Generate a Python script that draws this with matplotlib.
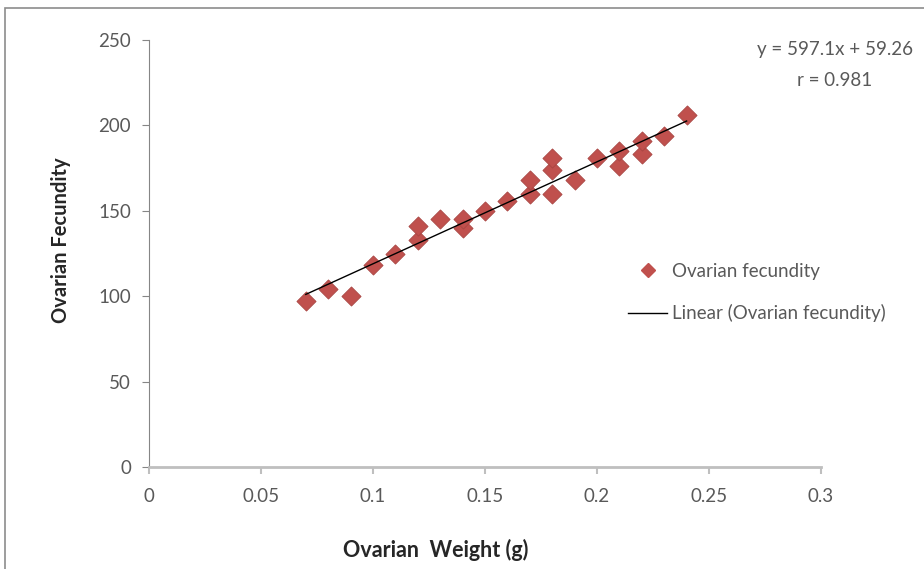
import numpy as np
import matplotlib
matplotlib.use("Agg")
import matplotlib.pyplot as plt
from matplotlib.lines import Line2D
from matplotlib.patches import Rectangle

plt.rcParams["font.family"] = ["Lato", "DejaVu Sans"]

# ovarian weight (g) and fecundity
weight = [0.07, 0.08, 0.09, 0.10, 0.11, 0.12, 0.12, 0.13, 0.14, 0.14,
          0.15, 0.16, 0.17, 0.17, 0.18, 0.18, 0.18, 0.19, 0.20, 0.21,
          0.21, 0.22, 0.22, 0.23, 0.24]
fecundity = [97, 104, 100, 118, 125, 133, 141, 145, 140, 145,
             150, 156, 160, 168, 160, 174, 181, 168, 181, 176,
             185, 183, 191, 194, 206]

slope = 597.1
intercept = 59.26
r_value = 0.981

x_ticks = [0, 0.05, 0.1, 0.15, 0.2, 0.25, 0.3]
x_tick_labels = ["0", "0.05", "0.1", "0.15", "0.2", "0.25", "0.3"]
y_ticks = [0, 50, 100, 150, 200, 250]

W, H = 924, 569
fig = plt.figure(figsize=(W / 100, H / 100), dpi=100)
ax = fig.add_axes([149 / W, 1 - 467 / H, 672 / W, 427 / H])

point_color = "#C0504D"
ax.scatter(weight, fecundity, marker="D", s=95, color=point_color,
           edgecolor="#A94542", linewidth=0.6, zorder=3)

x_fit = np.array([min(weight), max(weight)])
ax.plot(x_fit, slope * x_fit + intercept, color="black", linewidth=1.0, zorder=4)

ax.set_xlim(0, 0.3)
ax.set_ylim(0, 250)
ax.set_xticks(x_ticks)
ax.set_xticklabels(x_tick_labels)
ax.set_yticks(y_ticks)

text_color = "#595959"
fs = 13.5
ax.tick_params(axis="both", direction="out", labelsize=fs, colors="#868686",
               labelcolor=text_color, length=5)
ax.tick_params(axis="x", pad=10)
ax.tick_params(axis="y", pad=8)
for s in ["top", "right"]:
    ax.spines[s].set_visible(False)
ax.spines["left"].set_color("#868686")
ax.spines["left"].set_linewidth(0.8)
ax.spines["bottom"].set_color("#BFBFBF")
ax.spines["bottom"].set_linewidth(2)
ax.tick_params(axis="x", colors="#BFBFBF", width=1.5, labelcolor=text_color)

fig.text(436 / W, 1 - 550 / H, "Ovarian  Weight (g)", ha="center", va="center",
         fontsize=15.5, fontweight="bold", color="#262626")
fig.text(61 / W, 1 - 240 / H, "Ovarian Fecundity", ha="center", va="center",
         rotation=90, fontsize=14.5, fontweight="bold", color="#262626")

fig.text(835 / W, 1 - 50 / H, "y = %.1fx + %.2f" % (slope, intercept),
         ha="center", va="center", fontsize=fs, color=text_color)
fig.text(835 / W, 1 - 80 / H, "r = %.3f" % r_value,
         ha="center", va="center", fontsize=fs, color=text_color)

handles = [
    Line2D([], [], marker="D", linestyle="none", color=point_color, markersize=7),
    Line2D([], [], color="black", linewidth=1.0),
]
leg = fig.legend(handles, ["Ovarian fecundity", "Linear (Ovarian fecundity)"],
                 loc="upper left", bbox_to_anchor=(611 / W, 1 - 246 / H),
                 frameon=False, fontsize=fs, handlelength=2.1,
                 handletextpad=0.25, labelspacing=1.3)
for t in leg.get_texts():
    t.set_color(text_color)

# chart area border
fig.patches.append(Rectangle((5 / W, -0.1), 1.2, 1 - 8 / H + 0.1,
                             transform=fig.transFigure, fill=False,
                             edgecolor="#8C8C8C", linewidth=1.2))

fig.savefig("out.png", dpi=100)
